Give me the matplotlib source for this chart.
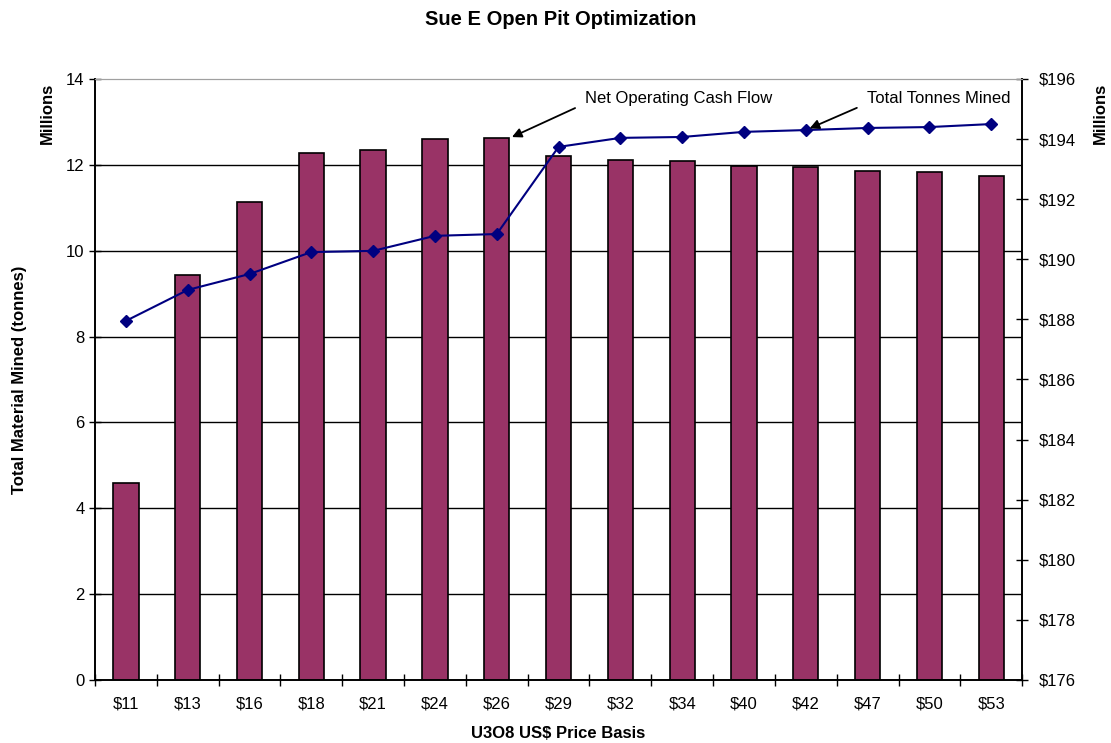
import numpy as np
import matplotlib.pyplot as plt

prices = ["$11", "$13", "$16", "$18", "$21", "$24", "$26", "$29",
          "$32", "$34", "$40", "$42", "$47", "$50", "$53"]
material_mined = [4.59, 9.43, 11.13, 12.28, 12.35, 12.60, 12.62, 12.21,
                  12.11, 12.10, 11.98, 11.95, 11.86, 11.83, 11.74]
cash_flow = [187.95, 188.98, 189.51, 190.24, 190.28, 190.78, 190.84, 193.74,
             194.04, 194.07, 194.24, 194.30, 194.37, 194.40, 194.50]

plt.rcParams['font.family'] = ['Liberation Sans', 'DejaVu Sans']

fig = plt.figure(figsize=(11.11, 7.43), dpi=100)
ax1 = fig.add_axes([0.0855, 0.0848, 0.8345, 0.8089])
ax2 = ax1.twinx()

x = np.arange(len(prices))
bw = 0.41
ax1.bar(x, material_mined, width=bw, color='#993366', edgecolor='black',
        linewidth=1.2, zorder=3)
ax1.set_ylim(0, 14)
ax1.set_xlim(-0.5, len(prices) - 0.5)
ax1.set_yticks(range(0, 15, 2))
ax1.set_xticks(x)
ax1.set_xticklabels(prices)
ax1.set_xticks(np.arange(-0.5, len(prices), 1), minor=True)
ax1.tick_params(axis='x', which='major', length=0, pad=12, labelsize=12)
ax1.tick_params(axis='x', which='minor', length=8, direction='inout', width=1)
ax1.tick_params(axis='y', length=8, direction='inout', width=1, labelsize=12)
for v in range(2, 14, 2):
    ax1.axhline(v, color='black', linewidth=1, zorder=1)

ax2.plot(x, cash_flow, color='#000080', marker='D', markersize=6,
         linewidth=1.5, zorder=4)
ax2.set_ylim(176, 196)
ax2.set_yticks(range(176, 197, 2))
ax2.set_yticklabels(["$%d" % v for v in range(176, 197, 2)])
ax2.tick_params(axis='y', length=8, direction='inout', width=1, labelsize=12, pad=8)

for a in (ax1, ax2):
    a.spines['top'].set_color('#a0a0a0')
    a.spines['left'].set_linewidth(1.2)
    a.spines['right'].set_linewidth(1.2)
    a.spines['bottom'].set_linewidth(1.2)

ax1.set_xlabel("U3O8 US$ Price Basis", fontsize=12, fontweight='bold', labelpad=10)
ax1.set_ylabel("Total Material Mined (tonnes)", fontsize=12, fontweight='bold', labelpad=28)
fig.text(0.043, 0.847, "Millions", rotation=90, fontsize=12, fontweight='bold',
         ha='center', va='center')
fig.text(0.99, 0.847, "Millions", rotation=90, fontsize=12, fontweight='bold',
         ha='center', va='center')
fig.text(0.505, 0.974, "Sue E Open Pit Optimization", fontsize=14.5, fontweight='bold',
         ha='center', va='center')

ax1.annotate("Net Operating Cash Flow", xy=(6 + bw / 2, 12.62),
             xytext=(0.529, 0.967), textcoords='axes fraction',
             ha='left', va='center', fontsize=12,
             arrowprops=dict(arrowstyle='-|>', color='black', lw=1.3,
                             relpos=(0, 0.2), shrinkA=6, shrinkB=2, mutation_scale=14),
             zorder=6)
ax2.annotate("Total Tonnes Mined", xy=(11, 194.30),
             xytext=(0.833, 0.967), textcoords='axes fraction',
             ha='left', va='center', fontsize=12,
             arrowprops=dict(arrowstyle='-|>', color='black', lw=1.3,
                             relpos=(0, 0.2), shrinkA=6, shrinkB=3, mutation_scale=14),
             zorder=6)

fig.savefig("out.png", dpi=100)
